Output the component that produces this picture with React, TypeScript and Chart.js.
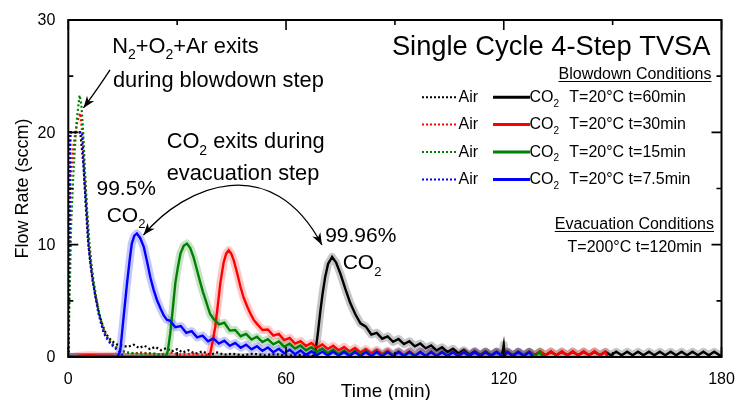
import React, { useEffect, useRef } from "react";
import { Chart, registerables } from "chart.js";

Chart.register(...registerables);

const FONT = "'Liberation Sans', Arial, Helvetica, sans-serif";

// ---------------- axis ticks ----------------
const xTickValues = [0, 60, 120, 180];
const xMinorTickValues = [30, 90, 150];
const yTickValues = [0, 10, 20, 30];
const yMinorTickValues = [5, 15, 25];

// ---------------- legend ----------------
const legendConditions = ["T=20°C t=60min", "T=20°C t=30min", "T=20°C t=15min", "T=20°C t=7.5min"];
const seriesColors = ["#000000", "#ff0000", "#008000", "#0000ff"];
const bandColors = ["rgba(0,0,0,0.22)", "rgba(255,0,0,0.22)", "rgba(0,128,0,0.22)", "rgba(0,0,255,0.22)"];

// ---------------- data: [time (min), flow rate (sccm)] ----------------
const airBlack: number[][] = [
  [0, 0], [0.5, 20], [3.3, 20], [4.2, 17], [4.8, 13.5], [5.4, 10.5], [6, 8.6], [6.6, 7], [7.3, 5.7], [8, 4.6],
  [8.8, 3.5], [9.7, 2.6], [10.5, 2.0], [11.5, 1.6], [12.5, 1.3], [13.5, 1.1], [15, 1.0], [16.5, 0.9], [18, 1.1],
  [19.5, 0.8], [21, 1.0], [22.5, 0.7], [24, 0.9], [25.5, 0.6], [27, 0.8], [28.5, 0.5], [30, 0.7], [31.5, 0.4],
  [33, 0.6], [35, 0.3], [37, 0.5], [39, 0.2], [41, 0.4], [43, 0.2], [45, 0.3], [48, 0.15], [51, 0.3], [54, 0.15],
  [57, 0.25], [60, 0.1], [63, 0.2], [66, 0.1], [68, 0.1],
];
const airRed: number[][] = [
  [0, 0], [0.3, 8], [0.6, 16], [1.5, 19], [2.5, 21], [3.3, 21.7], [4, 19.5], [4.6, 16], [5.2, 12.5], [5.8, 9.8],
  [6.4, 8], [7, 6.5], [7.8, 5], [8.5, 3.8], [9.3, 2.8], [10, 2.1], [11, 1.6], [12, 1.2], [13, 0.9], [14, 0.7],
  [15, 0.5], [16, 0.4], [18, 0.3], [20, 0.4], [22, 0.3], [25, 0.2], [28, 0.4], [31, 0.2], [34, 0.3], [37, 0.2], [39, 0.2],
];
const airGreen: number[][] = [
  [0, 0], [0.4, 6], [0.8, 12], [1.5, 17], [2.3, 21], [3.1, 23.3], [3.6, 22.5], [4.1, 20], [4.6, 16.5], [5.2, 13],
  [5.8, 10.2], [6.4, 8.2], [7, 6.7], [7.8, 5.1], [8.5, 3.9], [9.3, 2.9], [10, 2.2], [11, 1.6], [12, 1.2], [13, 0.9],
  [14, 0.7], [15, 0.55], [16, 0.4], [18, 0.35], [20, 0.3], [23, 0.35], [26, 0.2], [27, 0.1],
];
const airBlue: number[][] = [
  [0, 0], [0.3, 10], [0.6, 20], [3.8, 20], [4.4, 15.8], [5.1, 12.8], [5.6, 9.8], [6.2, 8], [6.7, 6.9], [7.5, 5.3],
  [8.3, 3.9], [9, 3.0], [9.7, 2.2], [10.5, 1.7], [11.6, 1.2], [12.5, 0.9], [13.4, 0.65], [14, 0.5], [14.5, 0.3], [15, 0.1],
];

const co2Black: number[][] = [
  [0, 0], [67.6, 0], [68, 0.2], [68.8, 2.2], [69.5, 4.2], [70.1, 5.7], [70.8, 7.15], [71.6, 8.3], [72.7, 8.9],
  [73.8, 8.4], [75, 7.4], [76.3, 6.1], [77.7, 4.8], [79.1, 3.8], [80.5, 3.0],
  [82, 2.7], [83.5, 2.0], [85, 2.15], [86.5, 1.63], [88, 1.84], [89.5, 1.35], [91, 1.6], [92.5, 1.15], [94, 1.4],
  [95.5, 0.95], [97, 1.2], [98.5, 0.77], [100, 1.02], [101.5, 0.59], [103, 0.87], [104.5, 0.45], [106, 0.73],
  [107.5, 0.31], [109, 0.6], [110.5, 0.2], [112, 0.52], [113.5, 0.17], [115, 0.5], [116.5, 0.15], [118, 0.48],
  [119.5, 0.15], [120, 1.1], [120.3, 0.15], [121, 0.47], [122.5, 0.15], [124, 0.47], [125.5, 0.15], [127, 0.47],
  [128.5, 0.15], [130, 0.47], [131.5, 0.15], [133, 0.47], [134.5, 0.15], [136, 0.47], [137.5, 0.15], [139, 0.47],
  [140.5, 0.15], [142, 0.47], [143.5, 0.15], [145, 0.47], [146.5, 0.15], [148, 0.47], [149.5, 0.15], [151, 0.47],
  [152.5, 0.15], [154, 0.47], [155.5, 0.15], [157, 0.47], [158.5, 0.15], [160, 0.47], [161.5, 0.15], [163, 0.47],
  [164.5, 0.15], [166, 0.47], [167.5, 0.15], [169, 0.47], [170.5, 0.15], [172, 0.47], [173.5, 0.15], [175, 0.47],
  [176.5, 0.15], [178, 0.47], [179.5, 0.15], [180, 0.1],
];
const co2Red: number[][] = [
  [0, 0], [1.5, 0.05], [3, 0.12], [6, 0.15], [9, 0.12], [12, 0.12], [13.5, 0.05], [14.5, 0], [38.6, 0], [39.1, 0.3],
  [39.8, 1.4], [40.5, 2.7], [41.2, 4.6], [41.9, 6.6], [42.8, 8.4], [43.5, 9.2], [44.2, 9.5], [44.9, 9.2], [45.6, 8.6],
  [46.5, 7.5], [47.4, 6.3], [48.3, 5.3], [49.3, 4.5], [50.2, 3.85], [51.1, 3.3], [52, 2.95],
  [53.5, 2.4], [55, 2.45], [56.5, 1.9], [58, 2.05], [59.5, 1.5], [61, 1.7], [62.5, 1.2], [64, 1.42], [65.5, 0.98],
  [67, 1.25], [68.5, 0.83], [70, 1.12], [71.5, 0.71], [73, 1.0], [74.5, 0.6], [76, 0.9], [77.5, 0.5], [79, 0.8],
  [80.5, 0.4], [82, 0.7], [83.5, 0.31], [85, 0.63], [86.5, 0.25], [88, 0.57], [89.5, 0.2], [91, 0.52], [92.5, 0.17],
  [94, 0.5], [95.5, 0.15], [97, 0.48], [98.5, 0.13], [100, 0.47], [101.5, 0.12], [103, 0.47], [104.5, 0.12],
  [106, 0.47], [107.5, 0.12], [109, 0.47], [110.5, 0.12], [112, 0.47], [113.5, 0.12], [115, 0.47], [116.5, 0.12],
  [118, 0.47], [119.5, 0.12], [121, 0.47], [122.5, 0.12], [124, 0.47], [125.5, 0.12], [127, 0.47], [128.5, 0.12],
  [130, 0.5], [131.5, 0.12], [133, 0.5], [134.5, 0.12], [136, 0.5], [137.5, 0.12], [139, 0.5], [140.5, 0.12],
  [142, 0.5], [143.5, 0.12], [145, 0.5], [146.5, 0.12], [148, 0.45], [148.5, 0.05],
];
const co2Green: number[][] = [
  [0, 0], [26.8, 0], [27.4, 0.5], [28.1, 2.1], [28.8, 4.3], [29.5, 6.6], [30.2, 8.0], [30.9, 9.2], [31.8, 9.9],
  [32.7, 10.1], [33.6, 9.7], [34.5, 8.9], [35.5, 7.7], [36.4, 6.6], [37.1, 5.8], [37.8, 5.1], [38.5, 4.4], [39.1, 3.8], [40, 3.4],
  [41.5, 2.9], [43, 3.05], [44.5, 2.35], [46, 2.4], [47.5, 1.85], [49, 2.05], [50.5, 1.55], [52, 1.8], [53.5, 1.33],
  [55, 1.58], [56.5, 1.13], [58, 1.38], [59.5, 0.92], [61, 1.18], [62.5, 0.75], [64, 1.02], [65.5, 0.59], [67, 0.87],
  [68.5, 0.45], [70, 0.75], [71.5, 0.35], [73, 0.65], [74.5, 0.26], [76, 0.58], [77.5, 0.2], [79, 0.53], [80.5, 0.17],
  [82, 0.5], [83.5, 0.15], [85, 0.48], [86.5, 0.13], [88, 0.47], [89.5, 0.12], [91, 0.46], [92.5, 0.1], [94, 0.45],
  [95.5, 0.1], [97, 0.45], [98.5, 0.1], [100, 0.45], [101.5, 0.1], [103, 0.45], [104.5, 0.1], [106, 0.45], [107.5, 0.1],
  [109, 0.45], [110.5, 0.1], [112, 0.45], [113.5, 0.1], [115, 0.45], [116.5, 0.1], [118, 0.45], [119.5, 0.1], [121, 0.45],
  [122.5, 0.1], [124, 0.45], [125.5, 0.1], [127, 0.45], [128.5, 0.1], [130, 0.45], [130.6, 0.05],
];
const co2Blue: number[][] = [
  [0, 0], [13.5, 0], [14.3, 0.5], [14.8, 2.1], [15.5, 4.4], [16.2, 6.6], [16.9, 8.6], [17.5, 10.1], [18.2, 10.8],
  [18.9, 11.0], [19.8, 10.6], [20.8, 9.8], [21.7, 8.5], [22.6, 7.1], [23.5, 6.0], [24.4, 5.1], [25.3, 4.4], [26.3, 3.7], [27.2, 3.3],
  [28, 3.25], [29.5, 2.65], [31, 2.75], [32.5, 2.15], [34, 2.3], [35.5, 1.75], [37, 1.9], [38.5, 1.4], [40, 1.65],
  [41.5, 1.2], [43, 1.45], [44.5, 1.0], [46, 1.25], [47.5, 0.83], [49, 1.1], [50.5, 0.68], [52, 0.96], [53.5, 0.55],
  [55, 0.84], [56.5, 0.43], [58, 0.73], [59.5, 0.33], [61, 0.64], [62.5, 0.25], [64, 0.57], [65.5, 0.19], [67, 0.5],
  [68.5, 0.15], [70, 0.48], [71.5, 0.13], [73, 0.46], [74.5, 0.12], [76, 0.45], [77.5, 0.08], [79, 0.45], [80.5, 0.08],
  [82, 0.45], [83.5, 0.08], [85, 0.44], [86.5, 0.08], [88, 0.45], [89.5, 0.08], [91, 0.44], [92.5, 0.08], [94, 0.45],
  [95.5, 0.08], [97, 0.44], [98.5, 0.08], [100, 0.45], [101.5, 0.08], [103, 0.44], [104.5, 0.08], [106, 0.45],
  [107.5, 0.08], [109, 0.44], [110.5, 0.08], [112, 0.45], [113.5, 0.08], [115, 0.44], [116.5, 0.08], [118, 0.45],
  [119.5, 0.08], [121, 0.44], [122.5, 0.08], [124, 0.45], [125.5, 0.08], [127, 0.44], [128, 0.05],
];

// order: black, red, green, blue (matches legend rows)
const airSeries = [airBlack, airRed, airGreen, airBlue];
const co2Series = [co2Black, co2Red, co2Green, co2Blue];

type Part = [string, boolean?];

function richText(ctx: CanvasRenderingContext2D, parts: Part[], x: number, y: number, size: number, align: "left" | "right" | "center" = "left") {
  const subSize = Math.round(size * 0.62);
  let w = 0;
  const widths: number[] = [];
  for (const [t, sub] of parts) {
    ctx.font = `${sub ? subSize : size}px ${FONT}`;
    const mw = ctx.measureText(t).width;
    widths.push(mw);
    w += mw;
  }
  let cx = align === "left" ? x : align === "right" ? x - w : x - w / 2;
  ctx.textAlign = "left";
  ctx.textBaseline = "alphabetic";
  parts.forEach(([t, sub], i) => {
    ctx.font = `${sub ? subSize : size}px ${FONT}`;
    ctx.fillText(t, cx, sub ? y + size * 0.3 : y);
    cx += widths[i];
  });
  return w;
}

function arrowHead(ctx: CanvasRenderingContext2D, fromX: number, fromY: number, tipX: number, tipY: number, len = 12, half = 4.5) {
  const a = Math.atan2(tipY - fromY, tipX - fromX);
  ctx.beginPath();
  ctx.moveTo(tipX, tipY);
  ctx.lineTo(tipX - len * Math.cos(a) + half * Math.sin(a), tipY - len * Math.sin(a) - half * Math.cos(a));
  ctx.lineTo(tipX - len * Math.cos(a) * 0.7, tipY - len * Math.sin(a) * 0.7);
  ctx.lineTo(tipX - len * Math.cos(a) - half * Math.sin(a), tipY - len * Math.sin(a) + half * Math.cos(a));
  ctx.closePath();
  ctx.fill();
}

const decorPlugin = {
  id: "decor",
  afterDraw(chart: any) {
    const { ctx, chartArea: ca, scales } = chart;
    const xs = scales.x;
    const ys = scales.y;
    const X = (v: number) => xs.getPixelForValue(v);
    const Y = (v: number) => ys.getPixelForValue(v);
    ctx.save();
    ctx.fillStyle = "#000";
    ctx.strokeStyle = "#000";

    // frame
    ctx.lineWidth = 2;
    ctx.strokeRect(ca.left, ca.top, ca.right - ca.left, ca.bottom - ca.top);

    // inward ticks on all four sides
    ctx.lineWidth = 1.6;
    ctx.beginPath();
    const tickX = (v: number, L: number) => {
      const p = X(v);
      ctx.moveTo(p, ca.bottom); ctx.lineTo(p, ca.bottom - L);
      ctx.moveTo(p, ca.top); ctx.lineTo(p, ca.top + L);
    };
    const tickY = (v: number, L: number) => {
      const p = Y(v);
      ctx.moveTo(ca.left, p); ctx.lineTo(ca.left + L, p);
      ctx.moveTo(ca.right, p); ctx.lineTo(ca.right - L, p);
    };
    xTickValues.forEach((v) => tickX(v, 10));
    xMinorTickValues.forEach((v) => tickX(v, 5));
    yTickValues.forEach((v) => tickY(v, 10));
    yMinorTickValues.forEach((v) => tickY(v, 5));
    ctx.stroke();

    // tick labels (positioned by the scales)
    ctx.font = `16px ${FONT}`;
    ctx.textAlign = "center";
    ctx.textBaseline = "alphabetic";
    xTickValues.forEach((v) => ctx.fillText(String(v), X(v), ca.bottom + 26.5));
    ctx.textAlign = "right";
    ctx.textBaseline = "middle";
    yTickValues.forEach((v) => ctx.fillText(String(v), ca.left - 13, Y(v) + 1));

    // axis titles
    ctx.textBaseline = "alphabetic";
    ctx.font = `19px ${FONT}`;
    ctx.textAlign = "center";
    ctx.fillText("Time (min)", (ca.left + ca.right) / 2 - 9, 397);
    ctx.save();
    ctx.translate(28, (ca.top + ca.bottom) / 2);
    ctx.rotate(-Math.PI / 2);
    ctx.font = `18px ${FONT}`;
    ctx.fillText("Flow Rate (sccm)", 0, 0);
    ctx.restore();

    // title
    ctx.font = `27.3px ${FONT}`;
    ctx.textAlign = "right";
    ctx.fillText("Single Cycle 4-Step TVSA", ca.right - 11, 55);

    // Blowdown conditions header (underlined)
    ctx.font = `16px ${FONT}`;
    ctx.textAlign = "right";
    const bdRight = ca.right - 10;
    ctx.fillText("Blowdown Conditions", bdRight, 79);
    const bdW = ctx.measureText("Blowdown Conditions").width;
    ctx.lineWidth = 1;
    ctx.beginPath();
    ctx.moveTo(bdRight - bdW, 81.5); ctx.lineTo(bdRight, 81.5);
    ctx.stroke();

    // legend rows
    const rowBase = [101.7, 129, 156.5, 184];
    legendConditions.forEach((cond, i) => {
      const yb = rowBase[i];
      const ym = yb - 4.5;
      ctx.strokeStyle = seriesColors[i];
      ctx.lineWidth = 2;
      ctx.setLineDash([2, 2]);
      ctx.beginPath();
      ctx.moveTo(422, ym); ctx.lineTo(458, ym);
      ctx.stroke();
      ctx.setLineDash([]);
      ctx.lineWidth = 3;
      ctx.beginPath();
      ctx.moveTo(493, ym); ctx.lineTo(530, ym);
      ctx.stroke();
      ctx.fillStyle = "#000";
      richText(ctx, [["Air"]], 458.5, yb, 16, "left");
      richText(ctx, [["CO"], ["2", true]], 529.5, yb, 16, "left");
      richText(ctx, [[cond]], 569.3, yb, 16, "left");
    });
    ctx.strokeStyle = "#000";

    // Evacuation conditions
    ctx.font = `16px ${FONT}`;
    ctx.textAlign = "right";
    ctx.fillText("Evacuation Conditions", ca.right - 7.5, 229);
    const evW = ctx.measureText("Evacuation Conditions").width;
    ctx.lineWidth = 1;
    ctx.beginPath();
    ctx.moveTo(ca.right - 7.5 - evW, 231.5); ctx.lineTo(ca.right - 7.5, 231.5);
    ctx.stroke();
    ctx.fillText("T=200°C t=120min", ca.right - 19.5, 251.7);

    // annotations placed in data coordinates
    richText(ctx, [["N"], ["2", true], ["+O"], ["2", true], ["+Ar exits"]], X(12.1), Y(27.07), 21.8, "left");
    richText(ctx, [["during blowdown step"]], X(12.3), Y(24.04), 21.8, "left");
    richText(ctx, [["CO"], ["2", true], [" exits during"]], X(27.1), Y(18.58), 21.8, "left");
    richText(ctx, [["evacuation step"]], X(27.1), Y(15.76), 21.8, "left");
    richText(ctx, [["99.5%"]], X(7.77), Y(14.43), 21, "left");
    richText(ctx, [["CO"], ["2", true]], X(10.58), Y(12.05), 21, "left");
    richText(ctx, [["99.96%"]], X(70.78), Y(10.27), 21, "left");
    richText(ctx, [["CO"], ["2", true]], X(75.6), Y(7.81), 21, "left");

    // arrow 1 (blowdown)
    ctx.lineWidth = 1.3;
    ctx.strokeStyle = "#000";
    const a0 = [X(11.49), Y(25.56)], ac = [X(8.46), Y(24.04)], a1 = [X(4.19), Y(22.17)];
    ctx.beginPath();
    ctx.moveTo(a0[0], a0[1]);
    ctx.quadraticCurveTo(ac[0], ac[1], a1[0], a1[1]);
    ctx.stroke();
    arrowHead(ctx, ac[0], ac[1], a1[0], a1[1]);

    // arc arrow (evacuation)
    const p0 = [X(20.72), Y(10.86)], c1 = [X(32.15), Y(15.32)], c2 = [X(56.12), Y(18.43)], p3 = [X(69.89), Y(9.97)];
    ctx.beginPath();
    ctx.moveTo(p0[0], p0[1]);
    ctx.bezierCurveTo(c1[0], c1[1], c2[0], c2[1], p3[0], p3[1]);
    ctx.stroke();
    arrowHead(ctx, c1[0], c1[1], p0[0], p0[1]);
    arrowHead(ctx, c2[0], c2[1], p3[0], p3[1]);

    ctx.restore();
  },
};

export default function App() {
  const ref = useRef<HTMLCanvasElement | null>(null);
  useEffect(() => {
    if (!ref.current) return;
    const toXY = (arr: number[][]) => arr.map(([x, y]) => ({ x, y }));
    const datasets: any[] = [];
    // draw order: lower "order" is drawn on top
    const topRank = [4, 3, 2, 1]; // black, red, green, blue
    co2Series.forEach((s, i) => {
      datasets.push({
        label: "CO2 line " + i,
        data: toXY(s),
        borderColor: seriesColors[i],
        borderWidth: 2.4,
        pointRadius: 0,
        tension: 0,
        order: topRank[i],
      });
      datasets.push({
        label: "CO2 band " + i,
        data: toXY(s),
        borderColor: bandColors[i],
        borderWidth: 8,
        pointRadius: 0,
        tension: 0,
        borderJoinStyle: "round",
        order: 20 + topRank[i],
      });
    });
    airSeries.forEach((s, i) => {
      datasets.push({
        label: "Air " + i,
        data: toXY(s),
        borderColor: seriesColors[i],
        borderWidth: 2.2,
        borderDash: [2, 2.4],
        pointRadius: 0,
        tension: 0,
        order: 10 + topRank[i],
      });
    });

    const chart = new Chart(ref.current, {
      type: "line",
      data: { datasets },
      plugins: [decorPlugin],
      options: {
        animation: false,
        responsive: false,
        devicePixelRatio: 1,
        layout: { padding: { left: 0, right: 13.5, top: 20, bottom: 0 } },
        plugins: { legend: { display: false }, tooltip: { enabled: false }, title: { display: false } },
        scales: {
          x: {
            type: "linear",
            min: 0,
            max: 180,
            grid: { display: false, drawTicks: false },
            border: { display: false },
            afterFit: (s: any) => { s.height = 43; },
            ticks: { display: false },
          },
          y: {
            type: "linear",
            min: 0,
            max: 30,
            grid: { display: false, drawTicks: false },
            border: { display: false },
            afterFit: (s: any) => { s.width = 68.3; },
            ticks: { display: false },
          },
        },
      },
    });
    return () => chart.destroy();
  }, []);
  return (
    <div style={{ position: "fixed", left: 0, top: 0, width: 735, height: 400, background: "#fff" }}>
      <canvas ref={ref} width={735} height={400} style={{ width: 735, height: 400, display: "block" }} />
    </div>
  );
}
